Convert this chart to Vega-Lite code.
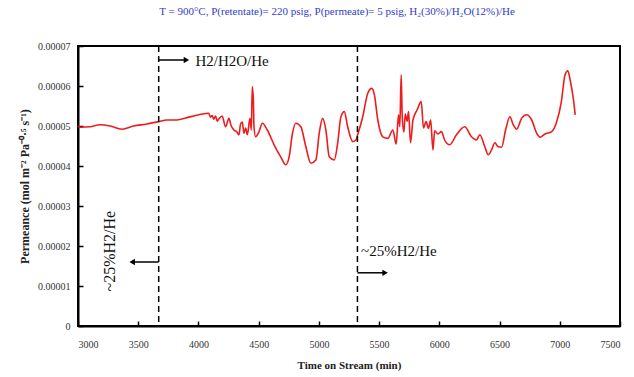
{
  "$schema": "https://vega.github.io/schema/vega-lite/v6.json",
  "width": 542,
  "height": 280,
  "autosize": {"type": "none"},
  "padding": {"left": 78, "top": 46, "right": 14, "bottom": 51},
  "background": "white",
  "title": {
    "text": "T = 900°C, P(retentate)= 220 psig, P(permeate)= 5 psig, H₂(30%)/H₂O(12%)/He",
    "font": "Liberation Serif",
    "fontSize": 11,
    "fontWeight": "normal",
    "color": "#2f3dcc",
    "anchor": "middle",
    "dx": -12,
    "offset": 24
  },
  "resolve": {"axis": {"x": "independent", "y": "independent"}},
  "config": {
    "view": {"stroke": "black", "strokeWidth": 2},
    "axis": {
      "domain": true,
      "ticks": true,
      "domainColor": "black",
      "domainWidth": 2,
      "tickColor": "black",
      "tickWidth": 1.5,
      "grid": false,
      "labelOverlap": false,
      "labelFont": "Liberation Serif",
      "labelFontSize": 10,
      "labelColor": "#333",
      "titleFont": "Liberation Serif",
      "titleColor": "#222",
      "titleFontWeight": "bold"
    }
  },
  "datasets": {
    "perm": [
      {"t": 3000, "p": 5.00e-5}, {"t": 3017, "p": 4.97e-5}, {"t": 3100, "p": 4.98e-5}, {"t": 3183, "p": 5.03e-5},
      {"t": 3267, "p": 5.00e-5}, {"t": 3364, "p": 4.92e-5}, {"t": 3461, "p": 5.00e-5}, {"t": 3572, "p": 5.05e-5},
      {"t": 3669, "p": 5.11e-5}, {"t": 3739, "p": 5.15e-5}, {"t": 3822, "p": 5.15e-5}, {"t": 3906, "p": 5.21e-5},
      {"t": 4003, "p": 5.28e-5}, {"t": 4086, "p": 5.32e-5}, {"t": 4100, "p": 5.22e-5}, {"t": 4114, "p": 5.26e-5},
      {"t": 4128, "p": 5.17e-5}, {"t": 4142, "p": 5.25e-5}, {"t": 4156, "p": 5.12e-5}, {"t": 4170, "p": 5.18e-5},
      {"t": 4197, "p": 5.25e-5}, {"t": 4225, "p": 4.98e-5}, {"t": 4253, "p": 5.19e-5}, {"t": 4270, "p": 5.02e-5},
      {"t": 4294, "p": 4.90e-5}, {"t": 4320, "p": 4.85e-5}, {"t": 4336, "p": 4.78e-5}, {"t": 4350, "p": 5.05e-5},
      {"t": 4364, "p": 5.10e-5}, {"t": 4378, "p": 4.82e-5}, {"t": 4392, "p": 4.95e-5}, {"t": 4406, "p": 4.78e-5},
      {"t": 4428, "p": 5.19e-5}, {"t": 4439, "p": 4.90e-5}, {"t": 4447, "p": 5.98e-5}, {"t": 4456, "p": 5.65e-5},
      {"t": 4461, "p": 4.98e-5}, {"t": 4475, "p": 4.73e-5}, {"t": 4503, "p": 4.86e-5}, {"t": 4531, "p": 5.07e-5},
      {"t": 4572, "p": 4.90e-5}, {"t": 4628, "p": 4.53e-5}, {"t": 4683, "p": 4.23e-5}, {"t": 4725, "p": 4.03e-5},
      {"t": 4753, "p": 4.23e-5}, {"t": 4781, "p": 4.82e-5}, {"t": 4808, "p": 5.07e-5}, {"t": 4850, "p": 4.98e-5},
      {"t": 4892, "p": 4.48e-5}, {"t": 4933, "p": 4.07e-5}, {"t": 4975, "p": 4.15e-5}, {"t": 5003, "p": 4.82e-5},
      {"t": 5031, "p": 5.19e-5}, {"t": 5058, "p": 4.90e-5}, {"t": 5086, "p": 4.23e-5}, {"t": 5128, "p": 4.15e-5},
      {"t": 5156, "p": 4.57e-5}, {"t": 5183, "p": 5.23e-5}, {"t": 5211, "p": 5.36e-5}, {"t": 5239, "p": 4.98e-5},
      {"t": 5281, "p": 4.61e-5}, {"t": 5308, "p": 4.65e-5}, {"t": 5322, "p": 4.78e-5}, {"t": 5364, "p": 5.23e-5},
      {"t": 5406, "p": 5.82e-5}, {"t": 5439, "p": 5.94e-5}, {"t": 5461, "p": 5.78e-5}, {"t": 5489, "p": 5.15e-5},
      {"t": 5531, "p": 4.73e-5}, {"t": 5572, "p": 4.69e-5}, {"t": 5614, "p": 4.90e-5}, {"t": 5642, "p": 4.55e-5},
      {"t": 5661, "p": 5.28e-5}, {"t": 5672, "p": 4.98e-5}, {"t": 5683, "p": 6.28e-5}, {"t": 5692, "p": 5.23e-5},
      {"t": 5706, "p": 4.85e-5}, {"t": 5717, "p": 5.30e-5}, {"t": 5733, "p": 5.12e-5}, {"t": 5744, "p": 5.36e-5},
      {"t": 5761, "p": 4.58e-5}, {"t": 5781, "p": 5.15e-5}, {"t": 5815, "p": 5.40e-5}, {"t": 5850, "p": 5.61e-5},
      {"t": 5868, "p": 4.95e-5}, {"t": 5890, "p": 5.11e-5}, {"t": 5910, "p": 4.94e-5}, {"t": 5928, "p": 5.15e-5},
      {"t": 5947, "p": 4.40e-5}, {"t": 5961, "p": 4.88e-5}, {"t": 5989, "p": 4.80e-5}, {"t": 6017, "p": 4.86e-5},
      {"t": 6044, "p": 4.65e-5}, {"t": 6086, "p": 4.53e-5}, {"t": 6142, "p": 4.78e-5}, {"t": 6211, "p": 4.98e-5},
      {"t": 6267, "p": 4.73e-5}, {"t": 6308, "p": 4.65e-5}, {"t": 6336, "p": 4.78e-5}, {"t": 6378, "p": 4.48e-5},
      {"t": 6406, "p": 4.28e-5}, {"t": 6433, "p": 4.40e-5}, {"t": 6461, "p": 4.58e-5}, {"t": 6489, "p": 4.48e-5},
      {"t": 6517, "p": 4.47e-5}, {"t": 6550, "p": 4.90e-5}, {"t": 6586, "p": 5.23e-5}, {"t": 6614, "p": 5.03e-5},
      {"t": 6642, "p": 4.92e-5}, {"t": 6683, "p": 5.19e-5}, {"t": 6725, "p": 5.28e-5}, {"t": 6767, "p": 5.15e-5},
      {"t": 6808, "p": 4.82e-5}, {"t": 6836, "p": 4.72e-5}, {"t": 6878, "p": 4.80e-5}, {"t": 6933, "p": 4.86e-5},
      {"t": 6975, "p": 5.11e-5}, {"t": 7011, "p": 5.57e-5}, {"t": 7044, "p": 6.28e-5}, {"t": 7067, "p": 6.38e-5},
      {"t": 7086, "p": 6.15e-5}, {"t": 7114, "p": 5.65e-5}, {"t": 7128, "p": 5.28e-5}
    ],
    "switches": [{"t": 3670}, {"t": 5320}],
    "arrows": [
      {"t": 3670, "t2": 3900, "p": 6.65e-5, "dir": "right"},
      {"t": 3670, "t2": 3450, "p": 1.6e-5, "dir": "left"},
      {"t": 5320, "t2": 5550, "p": 1.33e-5, "dir": "right"}
    ],
    "labels": [
      {"t": 3975, "p": 6.63e-5, "label": "H2/H2O/He"},
      {"t": 5350, "p": 1.87e-5, "label": "~25%H2/He"}
    ],
    "vlabels": [
      {"t": 3267, "p": 1.87e-5, "label": "~25%H2/He"}
    ]
  },
  "layer": [
    {
      "data": {"name": "perm"},
      "mark": {"type": "line", "color": "#ee1c1c", "strokeWidth": 1.6, "interpolate": "monotone"},
      "encoding": {
        "x": {
          "field": "t", "type": "quantitative",
          "scale": {"domain": [3000, 7500], "nice": false, "zero": false},
          "axis": {
            "title": "Time on Stream (min)",
            "titleFontSize": 11,
            "titlePadding": 10,
            "values": [3000, 3500, 4000, 4500, 5000, 5500, 6000, 6500, 7000, 7500],
            "format": "d",
            "tickSize": -5,
            "labelPadding": 18,
            "labelOverlap": false
          }
        },
        "y": {
          "field": "p", "type": "quantitative",
          "scale": {"domain": [0, 0.00007], "nice": false},
          "axis": {
            "title": "Permeance (mol m⁻² Pa⁻⁰·⁵ s⁻¹)",
            "titleFontSize": 12,
            "titlePadding": 6,
            "values": [0, 0.00001, 0.00002, 0.00003, 0.00004, 0.00005, 0.00006, 0.00007],
            "labelExpr": "datum.value == 0 ? '0' : format(datum.value, '.5f')",
            "tickSize": -5,
            "labelPadding": 13,
            "labelOverlap": false,
            "labelBound": false,
            "labelFlush": false
          }
        }
      }
    },
    {
      "data": {"name": "switches"},
      "mark": {"type": "rule", "color": "black", "strokeWidth": 1.5, "strokeDash": [6, 4]},
      "encoding": {
        "x": {"field": "t", "type": "quantitative", "scale": {"domain": [3000, 7500], "nice": false, "zero": false}, "axis": null}
      }
    },
    {
      "data": {"name": "arrows"},
      "mark": {"type": "rule", "color": "black", "strokeWidth": 1.5},
      "encoding": {
        "x": {"field": "t", "type": "quantitative", "scale": {"domain": [3000, 7500], "nice": false, "zero": false}, "axis": null},
        "x2": {"field": "t2"},
        "y": {"field": "p", "type": "quantitative", "scale": {"domain": [0, 0.00007], "nice": false}, "axis": null}
      }
    },
    {
      "data": {"name": "arrows"},
      "transform": [{"filter": "datum.dir == 'right'"}],
      "mark": {"type": "point", "shape": "triangle-right", "filled": true, "color": "black", "size": 40, "opacity": 1},
      "encoding": {
        "x": {"field": "t2", "type": "quantitative", "scale": {"domain": [3000, 7500], "nice": false, "zero": false}, "axis": null},
        "y": {"field": "p", "type": "quantitative", "scale": {"domain": [0, 0.00007], "nice": false}, "axis": null}
      }
    },
    {
      "data": {"name": "arrows"},
      "transform": [{"filter": "datum.dir == 'left'"}],
      "mark": {"type": "point", "shape": "triangle-left", "filled": true, "color": "black", "size": 40, "opacity": 1},
      "encoding": {
        "x": {"field": "t2", "type": "quantitative", "scale": {"domain": [3000, 7500], "nice": false, "zero": false}, "axis": null},
        "y": {"field": "p", "type": "quantitative", "scale": {"domain": [0, 0.00007], "nice": false}, "axis": null}
      }
    },
    {
      "data": {"name": "labels"},
      "mark": {"type": "text", "font": "Liberation Serif", "fontSize": 15, "align": "left", "baseline": "middle", "color": "#111"},
      "encoding": {
        "x": {"field": "t", "type": "quantitative", "scale": {"domain": [3000, 7500], "nice": false, "zero": false}, "axis": null},
        "y": {"field": "p", "type": "quantitative", "scale": {"domain": [0, 0.00007], "nice": false}, "axis": null},
        "text": {"field": "label"}
      }
    },
    {
      "data": {"name": "vlabels"},
      "mark": {"type": "text", "font": "Liberation Sans Narrow", "fontSize": 16, "angle": 270, "align": "center", "baseline": "middle", "color": "#111"},
      "encoding": {
        "x": {"field": "t", "type": "quantitative", "scale": {"domain": [3000, 7500], "nice": false, "zero": false}, "axis": null},
        "y": {"field": "p", "type": "quantitative", "scale": {"domain": [0, 0.00007], "nice": false}, "axis": null},
        "text": {"field": "label"}
      }
    }
  ]
}
